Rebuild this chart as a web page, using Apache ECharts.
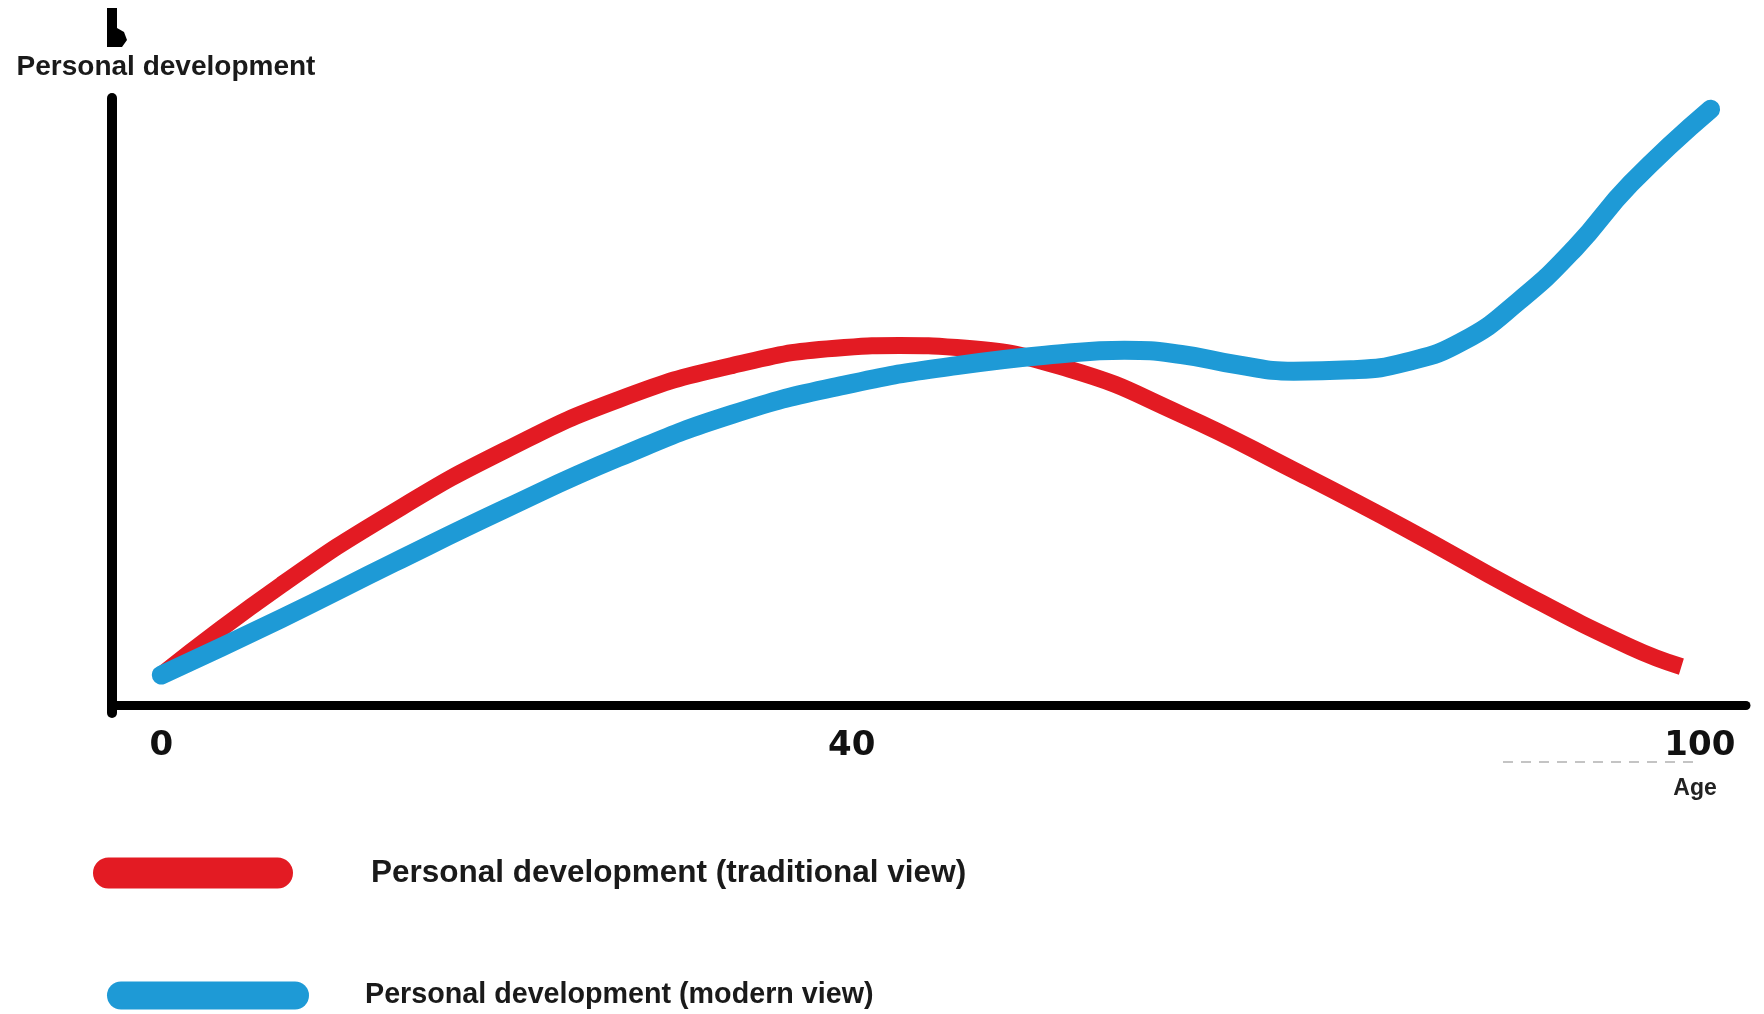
<!DOCTYPE html>
<html>
<head>
<meta charset="utf-8">
<title>Personal development</title>
<script src="https://cdn.jsdelivr.net/npm/echarts@6/dist/echarts.min.js"></script>
<style>
  * { margin: 0; padding: 0 }
  html, body { width: 100%; height: 100%; background: #fff; }
  #main { width: 1764px; height: 1014px; }
</style>
</head>
<body>
<div id="main"></div>
<script>
// values (age, development)
var tradAges   = [0, 7.8, 15.1, 22.4, 29.7, 37.1, 44.4, 48, 51.7, 59, 66.3, 73.6, 80.9, 88.2, 95.5, 98.8];
var tradValues = [4.3, 17.2, 27.7, 36.6, 43.8, 48.7, 51.3, 51.6, 51.3, 48.2, 41.7, 33.7, 25.3, 16.4, 8.3, 5.5];
var modAges    = [0, 7.8, 15.1, 22.4, 29.7, 37.1, 44.4, 51.7, 59, 62.6, 66.3, 70, 73.6, 77.3, 80.9, 84.6, 88.2, 91.9, 95.5, 100.7];
var modValues  = [4.3, 12.4, 20.4, 28.2, 35.5, 41.7, 45.9, 48.7, 50.5, 50.9, 50.3, 48.8, 47.9, 48.1, 49.2, 52.2, 57.9, 65.6, 74.8, 85.5];
var ageTicks   = [0, 40, 100];
var seriesNames = ['Personal development (traditional view)', 'Personal development (modern view)'];

function pairs(xs, ys) {
  return xs.map(function (x, i) { return [x, ys[i]]; });
}
// rounded pill shape for the legend swatches
function pill(w, h) {
  var r = h / 2;
  return 'path://M' + r + ',0 H' + (w - r) + ' A' + r + ',' + r + ' 0 0 1 ' + (w - r) + ',' + h +
    ' H' + r + ' A' + r + ',' + r + ' 0 0 1 ' + r + ',0 Z';
}

var chart = echarts.init(document.getElementById('main'));

chart.setOption({
  animation: false,
  grid: { left: 112, right: 18, top: 98, bottom: 301, outerBoundsMode: 'none' },
  legend: [{
    data: [seriesNames[0]],
    left: 93, top: 857, padding: 0,
    itemWidth: 200, itemHeight: 31,
    icon: pill(200, 31),
    textStyle: { fontFamily: 'Liberation Sans', fontWeight: 'bold', fontSize: 31.5, color: '#1a1a1a', padding: [0, 0, 0, 73] }
  }, {
    data: [seriesNames[1]],
    left: 107, top: 981, padding: 0,
    itemWidth: 202, itemHeight: 28,
    icon: pill(202, 28),
    textStyle: { fontFamily: 'Liberation Sans', fontWeight: 'bold', fontSize: 28.7, color: '#1a1a1a', padding: [0, 0, 0, 51] }
  }],
  xAxis: {
    type: 'value',
    min: -3.2, max: 103,
    name: 'Age',
    nameLocation: 'end',
    nameGap: -51,
    nameTextStyle: {
      fontFamily: 'Liberation Sans', fontWeight: 'bold', fontSize: 23, color: '#222',
      align: 'center', verticalAlign: 'top', padding: [72, 0, 0, 0]
    },
    splitLine: { show: false },
    axisTick: { show: false },
    axisLine: { show: true, onZero: true, lineStyle: { color: '#000', width: 9 } },
    axisLabel: {
      customValues: ageTicks,
      margin: 16,
      fontFamily: 'DejaVu Sans', fontWeight: 'bold', fontSize: 34, color: '#111',
      formatter: function (v) { return v === 40 ? '{shift|40}' : String(v); },
      rich: {
        shift: { padding: [0, 0, 0, 150], fontFamily: 'DejaVu Sans', fontWeight: 'bold', fontSize: 34, color: '#111' }
      }
    }
  },
  yAxis: {
    type: 'value',
    min: -1.15, max: 87.1,
    name: 'Personal development',
    nameLocation: 'end',
    nameGap: 31,
    nameTextStyle: {
      fontFamily: 'Liberation Sans', fontWeight: 'bold', fontSize: 28, color: '#1a1a1a',
      align: 'center', verticalAlign: 'middle', padding: [0, 0, 0, 108]
    },
    splitLine: { show: false },
    axisTick: { show: false },
    axisLabel: { show: false },
    axisLine: { show: true, onZero: false, lineStyle: { color: '#000', width: 10 } }
  },
  graphic: [{
    // stub of the axis arrow above the title
    type: 'polygon',
    shape: { points: [[107, 8], [117, 8], [117, 28], [124, 32], [127, 40], [122, 47], [107, 47]] },
    style: { fill: '#000' },
    silent: true
  }, {
    type: 'line',
    shape: { x1: 1503, y1: 762, x2: 1697, y2: 762 },
    style: { stroke: '#c4c4c4', lineWidth: 2, lineDash: [10, 8] },
    silent: true
  }],
  series: [{
    name: seriesNames[0],
    type: 'line',
    data: pairs(tradAges, tradValues),
    smooth: 0.5,
    showSymbol: false,
    color: '#e31b23',
    lineStyle: { width: 17, cap: 'butt', join: 'round' }
  }, {
    name: seriesNames[1],
    type: 'line',
    data: pairs(modAges, modValues),
    smooth: 0.5,
    showSymbol: false,
    color: '#1e9ad6',
    lineStyle: { width: 19, cap: 'round', join: 'round' }
  }]
});
</script>
</body>
</html>
